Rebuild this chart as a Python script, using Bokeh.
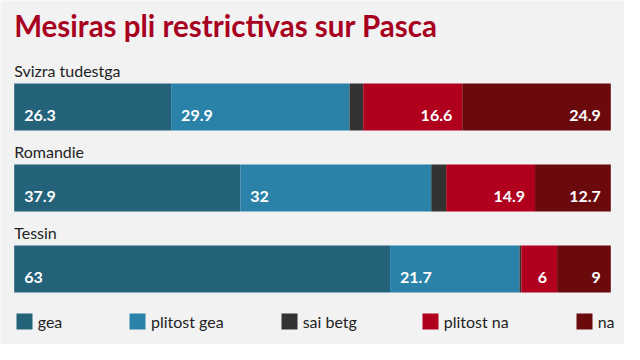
from bokeh.plotting import figure
from bokeh.models import ColumnDataSource, Range1d, Legend, LegendItem, Label
from bokeh.core.properties import value
from bokeh.embed import file_html
from bokeh.resources import INLINE

# ---- data ----
regions = ["Svizra tudestga", "Romandie", "Tessin"]
series = ["gea", "plitost gea", "sai betg", "plitost na", "na"]
gea = [26.3, 37.9, 63]
plitost_gea = [29.9, 32, 21.7]
sai_betg = [2.3, 2.5, 0.3]
plitost_na = [16.6, 14.9, 6]
na = [24.9, 12.7, 9]
title_text = "Mesiras pli restrictivas sur Pasca"

# ---- style / layout ----
colors = ["#24627a", "#2a82a8", "#333333", "#b0001e", "#6b0a0d"]
FONT = "Lato"
BG = "#f2f2f2"
W, H = 624, 344
PX_PER_UNIT = 596.6 / 100.0
X0 = 13.7            # frame px where value 0 sits
ROW_PX = 81.0
ROW0 = 106.5         # frame px (from top) of first bar centre

cols = ["gea", "plitost_gea", "sai_betg", "plitost_na", "na"]
vals = [gea, plitost_gea, sai_betg, plitost_na, na]
rows = list(range(len(regions)))
src = ColumnDataSource(dict(row=rows, region=regions, **{c: v for c, v in zip(cols, vals)}))

xs = -X0 / PX_PER_UNIT
x_range = Range1d(xs, xs + W / PX_PER_UNIT)
y_range = Range1d((H - ROW0) / ROW_PX, -ROW0 / ROW_PX)

p = figure(width=W, height=H, x_range=x_range, y_range=y_range,
           x_axis_location=None, y_axis_location=None,
           toolbar_location=None, output_backend="svg",
           min_border=0, min_border_left=0, min_border_right=0,
           min_border_top=0, min_border_bottom=0)
p.grid.visible = False
p.outline_line_color = None
p.background_fill_color = BG
p.border_fill_color = BG

rs = p.hbar_stack(cols, y="row", height=0.58, color=colors, line_color=None, source=src)

# value labels
left_x, left_y, left_t = [], [], []
right_x, right_y, right_t = [], [], []
for r in rows:
    cum = 0.0
    for k, v in enumerate(vals):
        val = v[r]
        start, end = cum, cum + val
        cum = end
        lab = f"{val:g}"
        if k in (0, 1):
            left_x.append(start); left_y.append(r); left_t.append(lab)
        elif k in (3, 4):
            right_x.append(end); right_y.append(r); right_t.append(lab)

p.text(x=left_x, y=left_y, text=left_t, x_offset=10, y_offset=8,
       text_align="left", text_baseline="alphabetic", text_color="white",
       text_font=value(FONT), text_font_style="bold", text_font_size="16px")
p.text(x=right_x, y=right_y, text=right_t, x_offset=-10, y_offset=8,
       text_align="right", text_baseline="alphabetic", text_color="white",
       text_font=value(FONT), text_font_style="bold", text_font_size="16px")

# region labels above bars
p.text(x=[0] * len(regions), y=rows, text=regions, y_offset=-36.5,
       text_align="left", text_baseline="alphabetic", text_color="#222222",
       text_font=value(FONT), text_font_size="16px")

# title
p.add_layout(Label(x=0, x_units="data", y=H - (44.3 - 8) + 11, y_units="screen",
                   text=title_text, text_font=FONT, text_font_size="29.5px",
                   text_font_style="bold", text_color="#a8001f",
                   text_baseline="alphabetic"))

# legend
legend_x = [13.7, 127, 278.7, 419.7, 573.7]
for i, name in enumerate(series):
    leg = Legend(items=[LegendItem(label=name, renderers=[rs[i]])],
                 location=(legend_x[i], 12.7), orientation="horizontal",
                 glyph_width=20, glyph_height=20, label_standoff=4,
                 label_height=20, padding=0, margin=0,
                 border_line_color=None, background_fill_alpha=0,
                 label_text_font=FONT, label_text_font_size="16px",
                 label_text_color="#222222")
    p.add_layout(leg)

html = file_html(p, INLINE, title=title_text)
html = html.replace("<body>", '<body style="background:%s">' % BG, 1)
open("out.html", "w").write(html)
